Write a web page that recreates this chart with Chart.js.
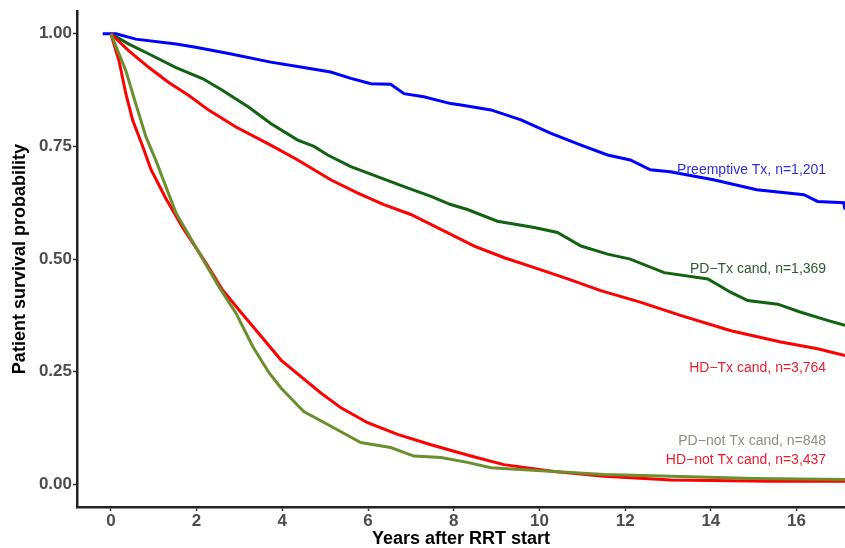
<!DOCTYPE html>
<html>
<head>
<meta charset="utf-8">
<script src="https://cdn.jsdelivr.net/npm/chart.js@4/dist/chart.umd.min.js"></script>
<style>
  html, body { margin: 0; padding: 0; background: #ffffff; }
  #wrap { width: 845px; height: 548px; position: relative; }
</style>
</head>
<body>
<div id="wrap"><canvas id="c" width="845" height="548"></canvas></div>
<script>
// ---- data ----
const seriesNames = ["Preemptive Tx", "PD-Tx cand", "HD-Tx cand", "PD-not Tx cand", "HD-not Tx cand"];

const preemptTime = [-0.19, 0.12, 0.58, 1.52, 1.98, 2.75, 3.73, 4.43, 5.13, 5.60, 6.07, 6.53, 6.84, 7.30, 7.93, 8.17, 8.87, 9.57, 10.27, 10.97, 11.59, 12.12, 12.59, 13.05, 14.06, 15.07, 16.17, 16.49, 17.10, 17.13];
const preemptSurv = [1.0, 1.0, 0.988, 0.977, 0.970, 0.956, 0.937, 0.926, 0.915, 0.901, 0.889, 0.888, 0.867, 0.860, 0.845, 0.842, 0.831, 0.809, 0.779, 0.753, 0.731, 0.720, 0.698, 0.694, 0.676, 0.654, 0.643, 0.628, 0.625, 0.610];

const pdTxTime = [0, 0.42, 0.89, 1.52, 2.15, 2.61, 3.22, 3.73, 4.36, 4.74, 5.06, 5.60, 6.22, 6.84, 7.47, 7.93, 8.32, 9.02, 9.88, 10.42, 10.97, 11.59, 12.12, 12.91, 13.93, 14.47, 14.86, 15.56, 16.10, 16.72, 17.13];
const pdTxSurv = [1.0, 0.977, 0.955, 0.925, 0.900, 0.874, 0.837, 0.801, 0.764, 0.750, 0.731, 0.705, 0.683, 0.661, 0.639, 0.621, 0.610, 0.584, 0.570, 0.559, 0.529, 0.511, 0.500, 0.470, 0.456, 0.426, 0.408, 0.400, 0.382, 0.364, 0.353];

const hdTxTime = [0, 0.42, 0.89, 1.35, 1.82, 2.29, 2.92, 3.73, 4.36, 5.13, 5.75, 6.37, 7.00, 7.70, 8.48, 9.18, 9.88, 10.66, 11.43, 12.37, 13.29, 14.47, 15.63, 16.49, 17.13];
const hdTxSurv = [1.0, 0.962, 0.925, 0.892, 0.863, 0.830, 0.793, 0.753, 0.720, 0.676, 0.647, 0.621, 0.599, 0.566, 0.529, 0.503, 0.481, 0.456, 0.430, 0.404, 0.375, 0.341, 0.316, 0.301, 0.286];

const pdNotTime = [0, 0.35, 0.58, 0.82, 1.05, 1.52, 1.98, 2.52, 2.92, 3.31, 3.69, 3.97, 4.50, 5.06, 5.83, 6.53, 7.07, 7.70, 8.32, 8.87, 10.34, 11.51, 13.07, 15.00, 17.13];
const pdNotSurv = [1.0, 0.918, 0.845, 0.771, 0.719, 0.602, 0.527, 0.439, 0.380, 0.306, 0.248, 0.214, 0.162, 0.133, 0.093, 0.082, 0.063, 0.060, 0.049, 0.037, 0.029, 0.022, 0.018, 0.013, 0.011];

const hdNotTime = [0, 0.19, 0.35, 0.51, 0.75, 0.93, 1.28, 1.67, 2.22, 2.61, 2.99, 3.54, 3.97, 4.43, 4.90, 5.37, 5.99, 6.69, 7.47, 8.40, 9.17, 10.34, 11.51, 13.07, 15.40, 17.13];
const hdNotSurv = [1.0, 0.940, 0.867, 0.808, 0.748, 0.700, 0.635, 0.571, 0.491, 0.431, 0.387, 0.325, 0.276, 0.240, 0.203, 0.170, 0.137, 0.111, 0.088, 0.063, 0.044, 0.029, 0.018, 0.010, 0.007, 0.007];

const xTickValues = [0, 2, 4, 6, 8, 10, 12, 14, 16];
const yTickValues = [0, 0.25, 0.5, 0.75, 1.0];

// curve-end labels (text, anchor year, anchor survival)
const labelTexts = ["Preemptive Tx, n=1,201", "PD\u2212Tx cand, n=1,369", "HD\u2212Tx cand, n=3,764", "PD\u2212not Tx cand, n=848", "HD\u2212not Tx cand, n=3,437"];
const labelYears = [16.69, 16.69, 16.69, 16.69, 16.69];
const labelSurv  = [0.698, 0.478, 0.259, 0.096, 0.054];

// ---- styling ----
const lineColors  = ["#0000FF", "#116311", "#FF0000", "#6B8E2F", "#FF0000"];
const labelColors = ["#3030D8", "#2E5A2E", "#E8202E", "#8A9180", "#F01A2E"];

function pts(t, s) { return t.map((v, i) => ({ x: v, y: s[i] })); }

const seriesData = [
  pts(preemptTime, preemptSurv),
  pts(pdTxTime, pdTxSurv),
  pts(hdTxTime, hdTxSurv),
  pts(pdNotTime, pdNotSurv),
  pts(hdNotTime, hdNotSurv)
];

const order = [3, 4, 2, 1, 0];
const datasets = order.map(i => ({
  label: seriesNames[i],
  data: seriesData[i],
  borderColor: lineColors[i],
  borderWidth: 3,
  pointRadius: 0,
  fill: false,
  tension: 0
}));

const labelPlugin = {
  id: 'curveLabels',
  afterDatasetsDraw(chart) {
    const ctx = chart.ctx;
    const xs = chart.scales.x, ys = chart.scales.y;
    ctx.save();
    ctx.font = '14px "Liberation Sans", Arial, sans-serif';
    ctx.textAlign = 'right';
    ctx.textBaseline = 'middle';
    labelTexts.forEach((t, i) => {
      ctx.fillStyle = labelColors[i];
      ctx.fillText(t, xs.getPixelForValue(labelYears[i]), ys.getPixelForValue(labelSurv[i]));
    });
    ctx.restore();
  }
};

new Chart(document.getElementById('c'), {
  type: 'line',
  data: { datasets },
  plugins: [labelPlugin],
  options: {
    responsive: false,
    animation: false,
    layout: { padding: { top: 10, right: 0, left: 0, bottom: 0 } },
    plugins: { legend: { display: false }, tooltip: { enabled: false } },
    scales: {
      x: {
        type: 'linear',
        min: -0.79,
        max: 17.13,
        afterBuildTicks: s => { s.ticks = xTickValues.map(v => ({ value: v })); },
        afterFit: s => { s.height = 41; },
        grid: { display: true, drawOnChartArea: false, drawTicks: true, tickLength: 4, tickColor: '#333333', tickWidth: 1.5 },
        border: { display: true, color: '#222222', width: 2.5 },
        ticks: {
          padding: 0,
          color: '#4d4d4d',
          font: { family: '"Liberation Sans", Arial, sans-serif', size: 17, weight: 'bold' },
          callback: v => String(v),
          maxRotation: 0
        },
        title: {
          display: true,
          text: 'Years after RRT start',
          color: '#000000',
          padding: { top: 0, bottom: 0 },
          font: { family: '"Liberation Sans", Arial, sans-serif', size: 18, weight: 'bold', lineHeight: 1 }
        }
      },
      y: {
        type: 'linear',
        min: -0.05,
        max: 1.05,
        afterBuildTicks: s => { s.ticks = yTickValues.map(v => ({ value: v })); },
        afterFit: s => { s.width = 77; },
        grid: { display: true, drawOnChartArea: false, drawTicks: true, tickLength: 4, tickColor: '#333333', tickWidth: 1.5 },
        border: { display: true, color: '#222222', width: 2.5 },
        ticks: {
          padding: 1,
          color: '#4d4d4d',
          font: { family: '"Liberation Sans", Arial, sans-serif', size: 17, weight: 'bold' },
          callback: v => Number(v).toFixed(2)
        },
        title: {
          display: true,
          text: 'Patient survival probability',
          color: '#000000',
          padding: { top: 11, bottom: 0 },
          font: { family: '"Liberation Sans", Arial, sans-serif', size: 18, weight: 'bold', lineHeight: 1 }
        }
      }
    }
  }
});
</script>
</body>
</html>
